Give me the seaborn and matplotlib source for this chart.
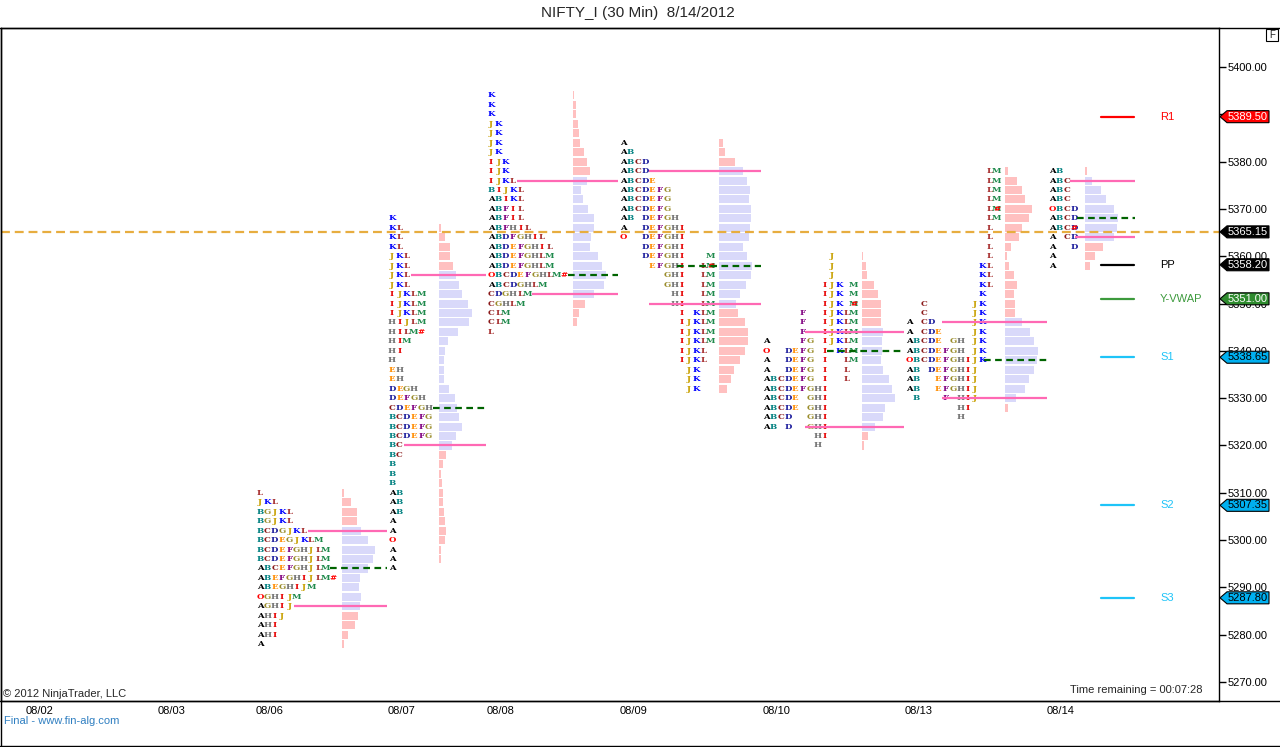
import numpy as np
import pandas as pd
import matplotlib
matplotlib.use("Agg")
import matplotlib.pyplot as plt
from matplotlib.patches import Polygon, Rectangle
from matplotlib.lines import Line2D
import seaborn as sns

# ---------------- data ----------------
days = ["08/06", "08/07", "08/08", "08/09", "08/10", "08/13", "08/14"]
date_labels = ["08/02", "08/03", "08/06", "08/07", "08/08", "08/09", "08/10", "08/13", "08/14"]

ROW = 2  # price step of one TPO row

# letter profile: top price and rows (top -> bottom)
tpo_top = [5310, 5368, 5394, 5384, 5360, 5378, 5378]

tpo_0806 = ["L", "JKL", "BGJKL", "BGJKL", "BCDGJKL", "BCDEGJKLM", "BCDEFGHJLM",
            "BCDEFGHJLM", "ABCEFGHJLM", "ABEFGHIJLM#", "ABEGHIJM", "OGHIJM",
            "AGHIJ", "AHIJ", "AHI", "AHI", "A"]
tpo_0807 = ["K", "KL", "KL", "KL", "JKL", "JKL", "JKL", "JKL", "IJKLM", "IJKLM",
            "IJKLM", "HIJLM", "HILM#", "HIM", "HI", "H", "EH", "EH", "DEGH",
            "DEFGH", "CDEFGH", "BCDEFG", "BCDEFG", "BCDEFG", "BC", "BC", "B", "B",
            "B", "AB", "AB", "AB", "A", "A", "O", "A", "A", "A"]
tpo_0808 = ["K", "K", "K", "JK", "JK", "JK", "JK", "IJK", "IJK", "IJKL", "BIJKL",
            "ABIKL", "ABFIL", "ABFIL", "ABFHIL", "ABDFGHIL", "ABDEFGHIL",
            "ABDEFGHLM", "ABDEFGHLM", "OBCDEFGHLM#", "ABCDGHLM", "CDGHLM",
            "CGHLM", "CLM", "CLM", "L"]
tpo_0809 = ["A", "AB", "ABCD", "ABCD", "ABCDE", "ABCDEFG", "ABCDEFG", "ABCDEFG",
            "AB DEFGH", "A  DEFGHI", "O  DEFGHI", "   DEFGHI", "   DEFGHI   M",
            "    EFGHI  Lm", "      GHI  LM", "      GHI  LM", "       HI  LM",
            "       HI  LM", "        I KLM", "        IJKLM", "        IJKLM",
            "        IJKLM", "        IJKL", "        IJKL", "         JK",
            "         JK", "         JK"]
tpo_0810 = ["         J", "         J", "         J", "        IJK M",
            "        IJK M", "        IJK m", "     F  IJKLM", "     F  IJKLM",
            "     F  IJKLM", "A    FG IJKLM", "O  DEFG I KLM", "A  DEFG I  LM",
            "A  DEFG I  L", "ABCDEFG I  L", "ABCDEFGHI", "ABCDE GHI", "ABCDE GHI",
            "ABCD  GHI", "AB D  GHI", "       HI", "       H"]
tpo_0813 = ["           LM", "           LM", "           LM", "           LM",
            "           Lm", "           LM", "           L", "           L",
            "           L", "           L", "          KL", "          KL",
            "          KL", "          K", "  C      JK", "  C      JK",
            "A CD     JK", "A CDE    JK", "ABCDE GH JK", "ABCDEFGH JK",
            "OBCDEFGHIJK", "AB DEFGHIJ", "AB  EFGHIJ", "AB  EFGHIJ", " B   F HIJ",
            "       HI", "       H"]
tpo_0814 = ["AB", "ABC", "ABC", "ABC", "OBCD", "ABCD", "ABCd", "A CD", "A  D",
            "A", "A"]
tpo_rows = [tpo_0806, tpo_0807, tpo_0808, tpo_0809, tpo_0810, tpo_0813, tpo_0814]

# volume histogram: top price and bar lengths (top -> bottom)
hist_top = [5310, 5366, 5394, 5384, 5360, 5378, 5378]
hist_0806 = [2, 9, 15, 15, 19, 26, 33, 31, 26, 18, 17, 19, 18, 16, 13, 6, 2]
hist_0807 = [2, 6, 11, 11, 14, 17, 20, 23, 29, 33, 30, 19, 9, 6, 5, 5, 5, 10, 16,
             18, 20, 23, 17, 13, 7, 4, 2, 3, 4, 4, 5, 6, 7, 6, 2, 2]
hist_0808 = [1, 3, 3, 5, 6, 7, 11, 14, 17, 14, 8, 10, 15, 21, 21, 18, 17, 25, 29,
             33, 31, 21, 12, 6, 4]
hist_0809 = [4, 6, 16, 24, 28, 31, 30, 32, 32, 31, 30, 24, 28, 33, 32, 27, 21, 17,
             19, 26, 29, 29, 26, 21, 15, 12, 8]
hist_0810 = [1, 4, 5, 12, 16, 19, 19, 19, 21, 20, 20, 19, 21, 27, 30, 33, 23, 21,
             13, 6, 2]
hist_0813 = [3, 12, 17, 20, 27, 24, 17, 14, 6, 2, 4, 9, 12, 9, 10, 10, 17, 25, 29,
             33, 32, 29, 24, 20, 11, 3]
hist_0814 = [2, 7, 16, 21, 29, 33, 32, 29, 18, 10, 5]
hist_rows = [hist_0806, hist_0807, hist_0808, hist_0809, hist_0810, hist_0813, hist_0814]

vah = [5302, 5356, 5376, 5378, 5344, 5346, 5376]
poc = [5294, 5328, 5356, 5358, 5340, 5338, 5368]
val = [5286, 5320, 5352, 5350, 5324, 5330, 5364]

pivot_names = ["R1", "PP", "Y-VWAP", "S1", "S2", "S3"]
pivot_values = [5389.50, 5358.20, 5351.00, 5338.65, 5307.35, 5287.80]
last_price = 5365.15

price_ticks = np.arange(5270, 5401, 10)

# ---------------- layout (chart pixels) ----------------
W, H = 1280, 747
PX_PER_PT = 4.731
Y_TOP_PX, Y_BOT_PX = 28, 701
AX_RIGHT_PX = 1219
letters_x = [257, 389, 488, 620, 763, 906, 1049]
hist_x = [342, 439, 573, 719, 862, 1005, 1085]
line_end_x = [387, 486, 618, 761, 904, 1047, 1135]
line_cols = [(7, 10, 5), (3, 6, 2), (4, 11, 6), (4, 7.8, 4), (5.8, 8.8, 5.8),
             (4.9, 10.7, 4.9), (2.9, 3.9, 3.6)]
COL_W = 7.3
date_x = [39.5, 171.5, 270, 402, 501, 633, 777, 919, 1061]

letter_colors = {"A": "#000000", "B": "#008080", "C": "#8b1a1a", "D": "#1c1c9c",
                 "E": "#ff8c00", "F": "#800080", "G": "#9a8c2a", "H": "#707070",
                 "I": "#e60000", "J": "#c8a000", "K": "#0000ff", "L": "#a52a2a",
                 "M": "#1f8a4c", "O": "#ff0000", "#": "#ff0000"}
overlay = {"m": "M", "d": "D"}
LETTER_FONT = dict(fontsize=6.1, family="DejaVu Serif", weight="bold",
                   ha="center", va="center", zorder=3)

pink = "#ffc0c0"
lavender = "#d9d9fa"
pivot_line_colors = {"R1": "#ff0000", "PP": "#000000", "Y-VWAP": "#3c9a3c",
                     "S1": "#1ec4f8", "S2": "#1ec4f8", "S3": "#1ec4f8"}
box_styles = {"R1": ("#ff0000", "white"), "PP": ("#000000", "white"),
              "Y-VWAP": ("#2e8b2e", "white"), "S1": ("#00b0f0", "black"),
              "S2": ("#00b0f0", "black"), "S3": ("#00b0f0", "black")}

sns.set_style("white")
plt.rcParams["font.family"] = ["Liberation Sans", "DejaVu Sans"]

y_hi = 5400 + (67 - Y_TOP_PX) / PX_PER_PT
y_lo = 5400 - (Y_BOT_PX - 67) / PX_PER_PT

fig = plt.figure(figsize=(W / 100, H / 100), dpi=100)
ax = fig.add_axes([1 / W, 1 - Y_BOT_PX / H, (AX_RIGHT_PX - 1) / W, (Y_BOT_PX - Y_TOP_PX) / H])

# histograms
for i, d in enumerate(days):
    prices = hist_top[i] - ROW * np.arange(len(hist_rows[i]))
    cols = [lavender if val[i] <= p <= vah[i] else pink for p in prices]
    ax.barh(prices, hist_rows[i], left=hist_x[i], height=1.7, color=cols,
            linewidth=0, zorder=1)

# letters, one fixed-width cell per letter
for i, d in enumerate(days):
    for r, row in enumerate(tpo_rows[i]):
        p = tpo_top[i] - ROW * r
        for c, ch in enumerate(row):
            if ch == " ":
                continue
            x = letters_x[i] + c * COL_W + 3
            base = overlay.get(ch, ch)
            ax.text(x, p, base, color=letter_colors[base], **LETTER_FONT)
            if ch in overlay:
                ax.text(x, p, "#", color="#ff0000", **LETTER_FONT)

# current price line
ax.axhline(last_price, color="#e7ad3f", lw=1.6, ls=(0, (4, 2.2)), zorder=2)

# value area and POC lines
for i, d in enumerate(days):
    c_vah, c_poc, c_val = line_cols[i]
    x0 = letters_x[i]
    ax.hlines(vah[i], x0 + c_vah * COL_W, line_end_x[i], color="#ff69b4", lw=1.6, zorder=4)
    ax.hlines(val[i], x0 + c_val * COL_W, line_end_x[i], color="#ff69b4", lw=1.6, zorder=4)
    ax.hlines(poc[i], x0 + c_poc * COL_W, line_end_x[i], color="#006400", lw=1.6,
              linestyles=(0, (3, 2)), zorder=4)

# pivot levels
piv = pd.DataFrame({"level": np.repeat(pivot_names, 2),
                    "price": np.repeat(pivot_values, 2),
                    "x": np.tile([1101, 1134], len(pivot_names))})
sns.lineplot(data=piv, x="x", y="price", hue="level", palette=pivot_line_colors,
             estimator=None, sort=False, legend=False, lw=1.6, ax=ax)
for name, v in zip(pivot_names, pivot_values):
    ax.text(1160, v, name, color=pivot_line_colors[name], fontsize=8,
            ha="left", va="center")

ax.set_xlim(1, AX_RIGHT_PX)
ax.set_ylim(y_lo, y_hi)
ax.set_xlabel("")
ax.set_ylabel("")
ax.set_xticks(date_x)
ax.set_xticklabels(date_labels)
ax.tick_params(axis="x", length=0, pad=3.5, labelsize=8, colors="black")
ax.yaxis.tick_right()
ax.set_yticks(price_ticks)
ax.set_yticklabels(["%.2f" % t for t in price_ticks])
ax.tick_params(axis="y", direction="out", length=5, width=1, pad=1.5,
               labelsize=8, colors="black")
for s in ax.spines.values():
    s.set_visible(True)
    s.set_color("black")
    s.set_linewidth(1)
ax.grid(False)

# price boxes on the right axis
axr = fig.add_axes([AX_RIGHT_PX / W, 1 - Y_BOT_PX / H, (W - AX_RIGHT_PX) / W,
                    (Y_BOT_PX - Y_TOP_PX) / H])
axr.set_xlim(0, W - AX_RIGHT_PX)
axr.set_ylim(y_lo, y_hi)
axr.axis("off")
axr.patch.set_alpha(0)
hh = 6 / PX_PER_PT
boxes = [("last", last_price, "#000000", "white")] + \
        [(n, v, box_styles[n][0], box_styles[n][1]) for n, v in zip(pivot_names, pivot_values)]
for n, v, fc, tc in boxes:
    poly = Polygon([(1, v), (8, v + hh), (50, v + hh), (50, v - hh), (8, v - hh)],
                   closed=True, facecolor=fc, edgecolor="black", lw=0.8)
    axr.add_patch(poly)
    axr.text(29, v, "%.2f" % v, color=tc, fontsize=8, ha="center", va="center")

# frame lines and texts
fig.add_artist(Line2D([0, 1], [1 - 27.5 / H] * 2, color="black", lw=1))
fig.add_artist(Line2D([0, 1], [1 - 701 / H] * 2, color="black", lw=1))
fig.add_artist(Line2D([0.5 / W] * 2, [0, 1 - 27.5 / H], color="black", lw=1))
fig.add_artist(Line2D([0, 1], [0.6 / H] * 2, color="black", lw=1))
fig.add_artist(Rectangle((1266 / W, 1 - 41 / H), 12 / W, 12 / H, transform=fig.transFigure,
                         facecolor="white", edgecolor="black", lw=0.8))
fig.text(1272 / W, 1 - 35 / H, "F", fontsize=7, ha="center", va="center")

fig.text(638 / W, 1 - 13 / H, "NIFTY_I (30 Min)  8/14/2012", fontsize=11,
         ha="center", va="center")
fig.text(3 / W, 1 - 694 / H, "\u00a9 2012 NinjaTrader, LLC", fontsize=8,
         ha="left", va="center")
fig.text(1203 / W, 1 - 690 / H, "Time remaining = 00:07:28", fontsize=8,
         ha="right", va="center")
fig.text(4 / W, 1 - 721 / H, "Final - www.fin-alg.com", fontsize=8,
         color="#2f7fc1", ha="left", va="center")

fig.savefig("out.png", dpi=100)
